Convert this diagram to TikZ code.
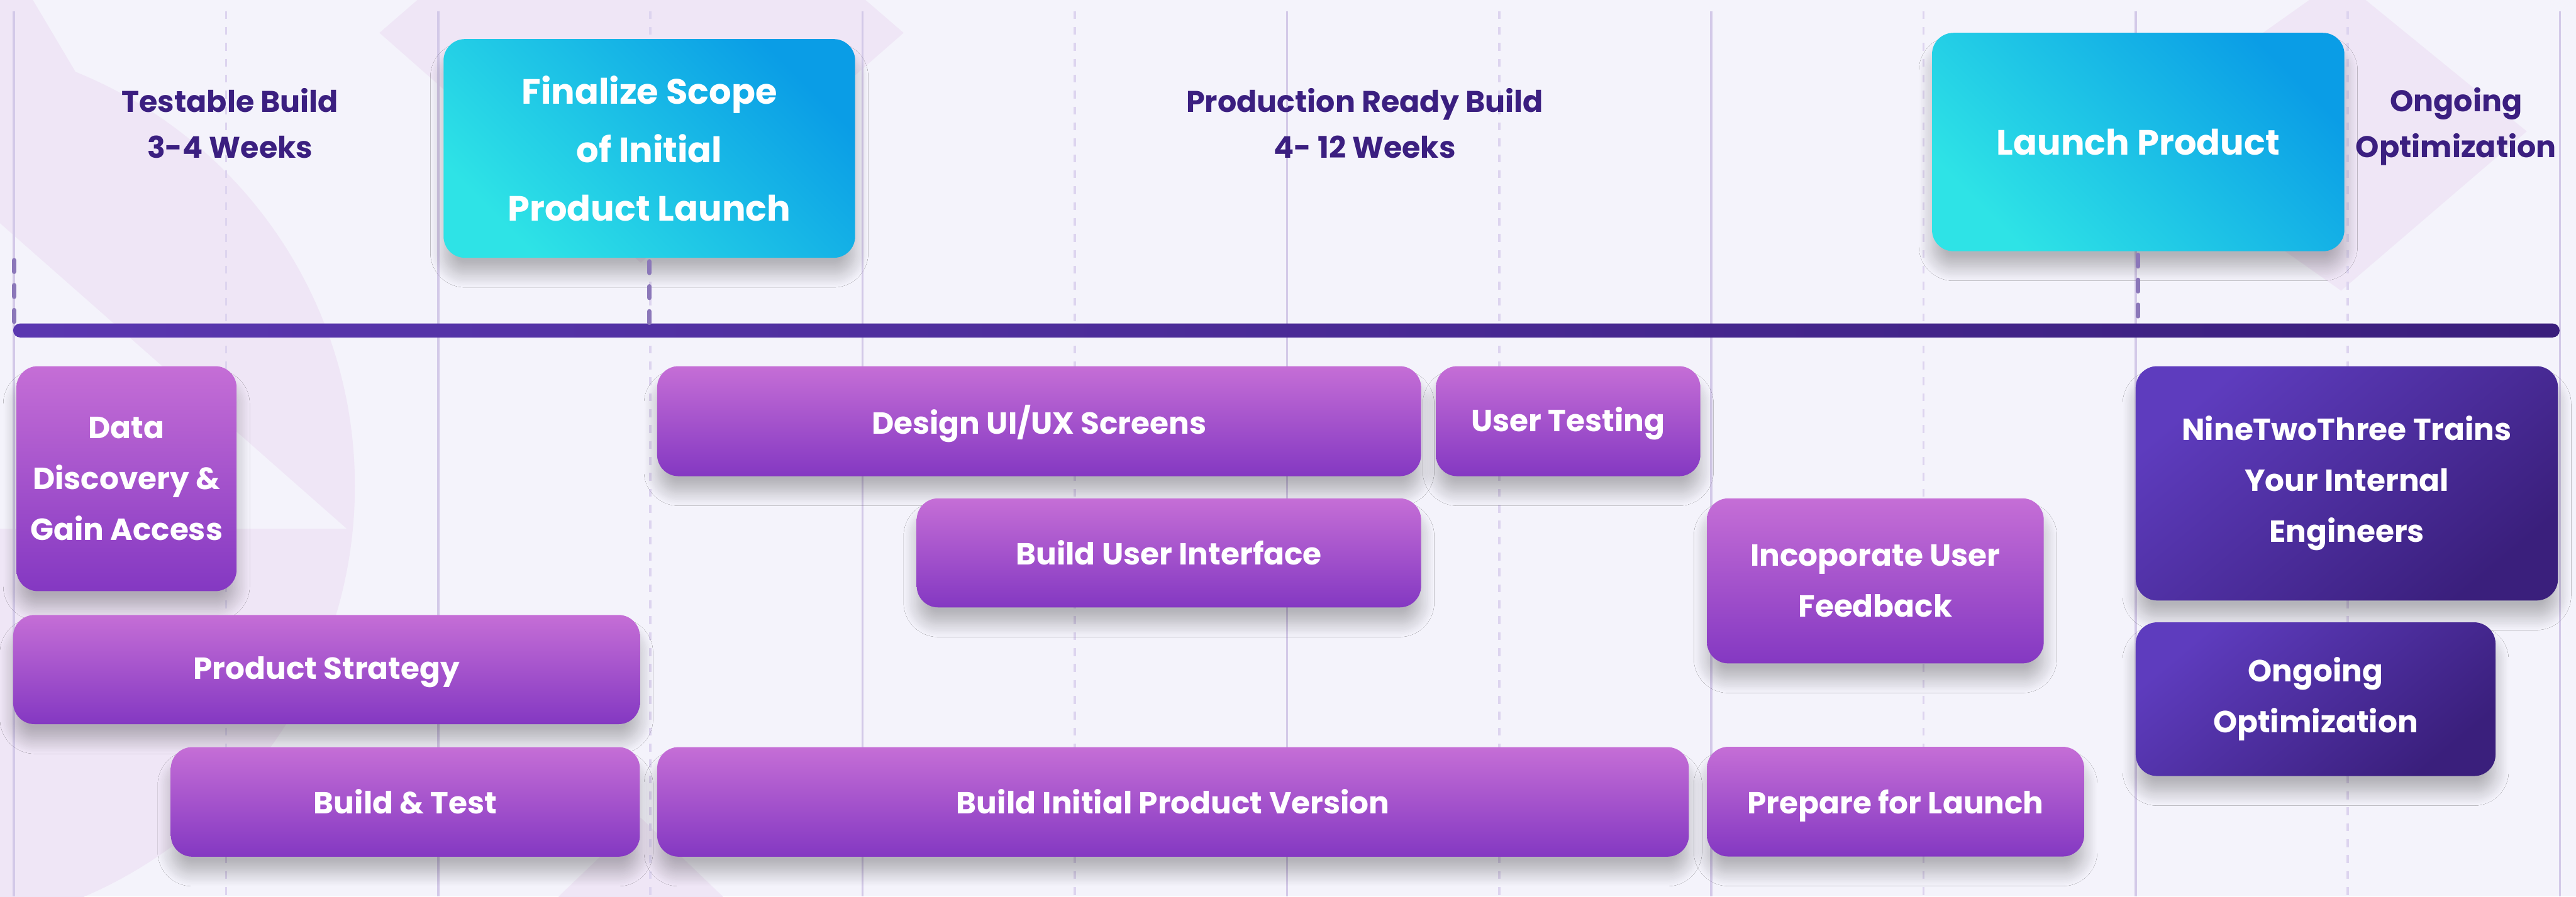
\documentclass[tikz,border=0pt]{standalone}
\usepackage{fontspec}
\setmainfont{Poppins}
\usetikzlibrary{shadows.blur}
\definecolor{bg}{HTML}{F4F3FB}
\definecolor{deco}{HTML}{EFE6F6}
\definecolor{gridsolid}{HTML}{D3C9E8}
\definecolor{griddash}{HTML}{DDD4EF}
\definecolor{conn}{HTML}{8B77B9}
\definecolor{ink}{HTML}{3B1F80}
\definecolor{ptop}{HTML}{C56ED6}
\definecolor{pbot}{HTML}{8438C2}
\definecolor{cyanA}{HTML}{2EE3E6}
\definecolor{cyanB}{HTML}{0A9DE6}
\definecolor{dkA}{HTML}{5E3CBE}
\definecolor{dkB}{HTML}{3A1F7C}
\definecolor{barA}{HTML}{5A37B0}
\definecolor{barB}{HTML}{3A1E7C}
\tikzset{
  softshadow/.style={blur shadow={shadow xshift=0pt, shadow yshift=-10pt, shadow blur radius=8pt, shadow blur steps=16, shadow opacity=26}},
  boxbase/.style={rectangle, rounded corners=13pt, draw=none, text=white, align=center, inner sep=0pt, softshadow},
  task/.style={boxbase, top color=ptop, bottom color=pbot, font=\bfseries\fontsize{18.6}{31}\selectfont},
  milestone/.style={boxbase, top color=cyanB, bottom color=cyanA, shading angle=-45, font=\bfseries\fontsize{21.4}{35.7}\selectfont},
  darktask/.style={boxbase, top color=dkA, bottom color=dkB, shading angle=40, font=\bfseries\fontsize{18.6}{31}\selectfont},
  phase/.style={text=ink, align=center, inner sep=0pt, font=\bfseries\fontsize{18.2}{28}\selectfont},
  gridline/.style={draw=gridsolid, line width=1.35pt},
  griddashed/.style={draw=griddash, line width=1.4pt, dash pattern=on 4.8pt off 4.9pt},
  connector/.style={draw=conn, line width=2.7pt, line cap=round, dash pattern=on 7pt off 8.2pt},
}
\begin{document}
\begin{tikzpicture}[x=1pt,y=-1pt]
\useasboundingbox (0,0) rectangle (1568,546);
\fill[bg] (0,0) rectangle (1568,546);
% decorative background shapes
\begin{scope}
\clip (0,0) rectangle (1568,546);
\fill[deco] (-56,296) circle[radius=272];
\fill[deco] (0,0) -- (20,0) -- (211,322) -- (0,136) -- cycle;
\fill[bg] (0,136) -- (211,322) -- (0,322) -- cycle;
\fill[deco] (231,20) -- (390,-118) -- (550,20) -- (390,160) -- cycle;
\fill[deco] (1290,82) -- (1424,-13) -- (1538,80) -- (1425,177) -- cycle;
\fill[deco] (340,546) -- (390,498) -- (440,546) -- (390,600) -- cycle;
\end{scope}
% grid
\foreach \k in {0,...,6} {
  \draw[gridline] ({8.5+258.3*\k},6.7) -- ({8.5+258.3*\k},546);
}
\foreach \k in {0,...,5} {
  \draw[griddashed] ({137.6+258.3*\k},6.7) -- ({137.6+258.3*\k},546);
}
% phase labels
\node[phase] (p1) at (140,75) {Testable Build\\3-4 Weeks};
\node[phase] (p2) at (830.7,75) {Production Ready Build\\4- 12 Weeks};
\node[phase] (p3) at (1495,77) {Ongoing\\Optimization};
% timeline bar
\node[rectangle, inner sep=0pt, minimum width=1550pt, minimum height=8.5pt, rounded corners=4.25pt, left color=barA, right color=barB] (bar) at (783,201.25) {};
% milestones
\node[milestone, minimum width=250.5pt, minimum height=133.2pt] (finalize) at (395.25,90.4) {Finalize Scope\\of Initial\\Product Launch};
\node[milestone, minimum width=251pt, minimum height=133pt] (launch) at (1301.5,86.5) {Launch Product};
\coordinate (lstart) at (8.5,158.5);
\draw[connector] ([yshift=-2pt]finalize.south) -- (finalize.south |- bar.north);
\draw[connector] ([yshift=-2pt]launch.south) -- (launch.south |- bar.north);
\draw[connector] (lstart) -- (lstart |- bar.north);
% tasks
\node[task, minimum width=134pt, minimum height=137pt] (data) at (77,291.5) {Data\\Discovery \&\\Gain Access};
\node[task, minimum width=381.5pt, minimum height=66.5pt, text depth=2pt] (strat) at (198.75,407.75) {Product Strategy};
\node[task, minimum width=285.5pt, minimum height=66.7pt] (buildtest) at (246.75,488.35) {Build \& Test};
\node[task, minimum width=465pt, minimum height=67pt, text depth=2pt] (design) at (632.5,256.5) {Design UI/UX Screens};
\node[task, minimum width=161pt, minimum height=67pt, text depth=2pt] (usertest) at (954.5,256.5) {User Testing};
\node[task, minimum width=307pt, minimum height=66.4pt] (buildui) at (711.5,336.7) {Build User Interface};
\node[task, minimum width=628pt, minimum height=66.7pt] (buildinit) at (714,488.35) {Build Initial Product Version};
\node[task, minimum width=205pt, minimum height=100.5pt] (incorp) at (1141.5,353.75) {Incoporate User\\Feedback};
\node[task, minimum width=229.6pt, minimum height=66.8pt, text depth=-2pt] (prep) at (1153.8,488.2) {Prepare for Launch};
\node[darktask, minimum width=257pt, minimum height=142.7pt] (trains) at (1428.5,294.35) {NineTwoThree Trains\\Your Internal\\Engineers};
\node[darktask, minimum width=219pt, minimum height=93.6pt] (ongoing) at (1409.5,425.8) {Ongoing\\Optimization};
\end{tikzpicture}
\end{document}
